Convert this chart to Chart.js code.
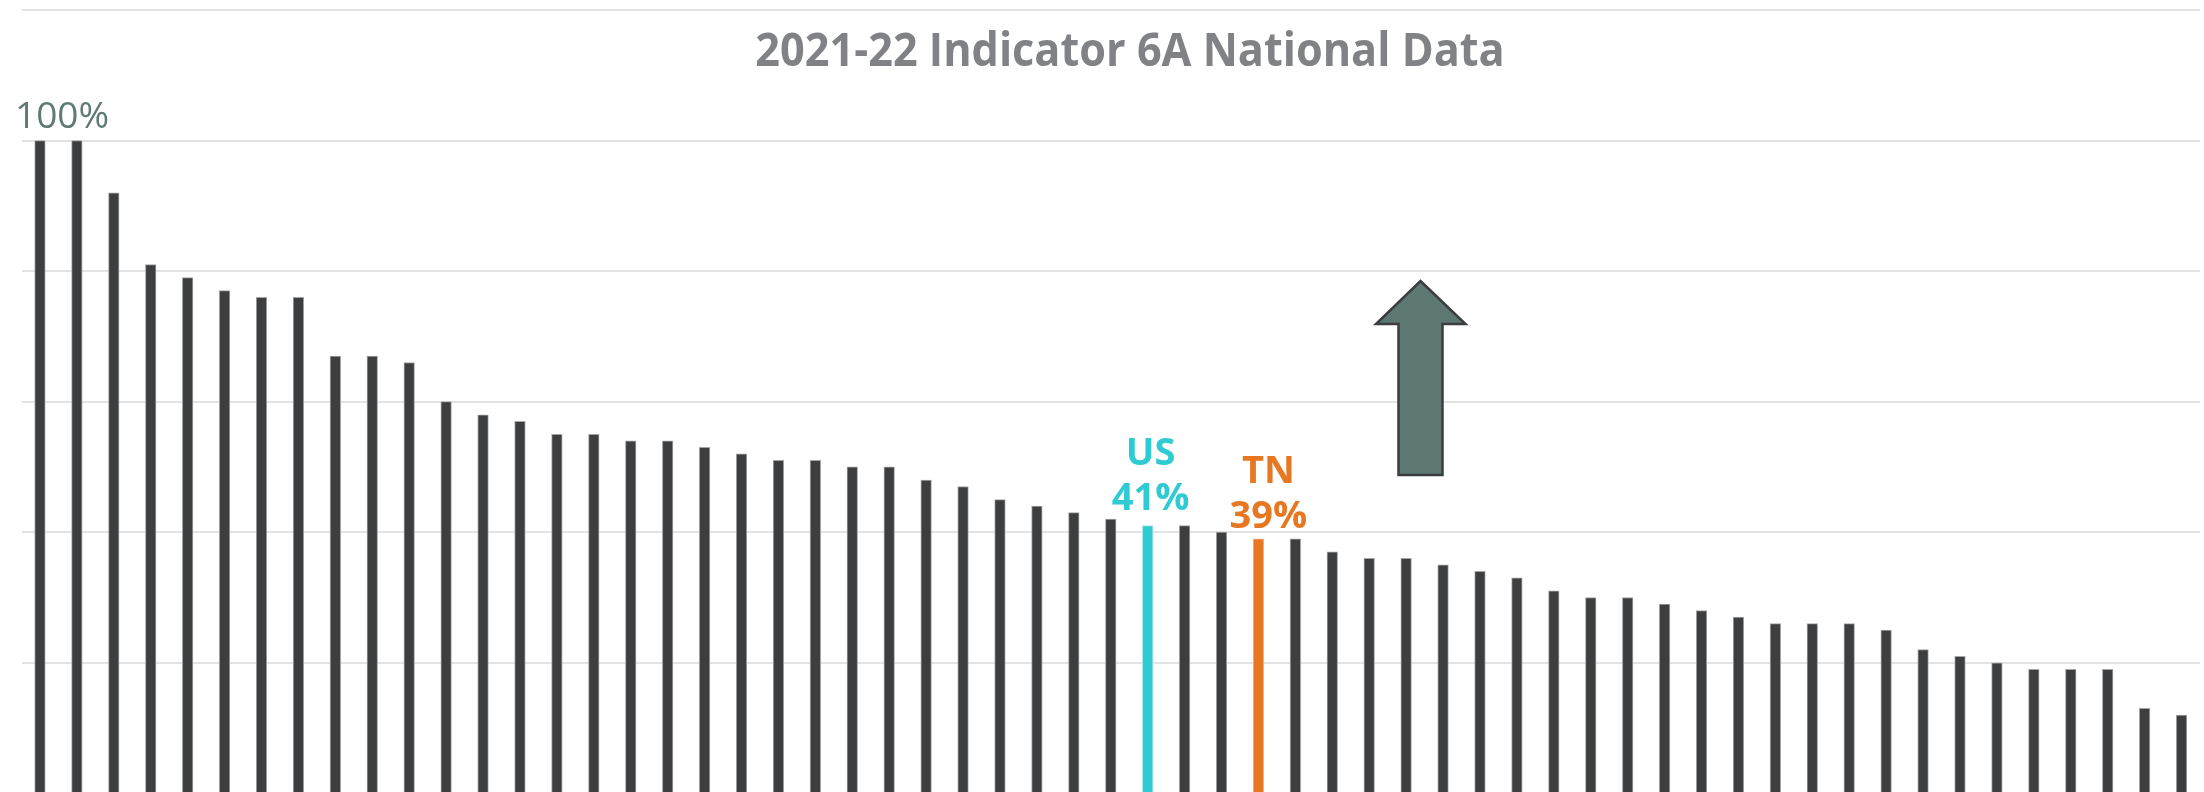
<!DOCTYPE html>
<html>
<head>
<meta charset="utf-8">
<script src="https://cdn.jsdelivr.net/npm/chart.js@4.4.1/dist/chart.umd.min.js"></script>
<style>
  html, body { margin: 0; padding: 0; background: #fff; overflow: hidden; }
  #wrap { position: relative; width: 2204px; height: 800px; }
</style>
</head>
<body>
<div id="wrap"><canvas id="chart" width="2204" height="800"></canvas></div>
<script>
const TITLE = '2021-22 Indicator 6A National Data';

// one bar per state, sorted high to low; only US and TN are named in the picture
const categories = [
  '', '', '', '', '', '', '', '', '', '',
  '', '', '', '', '', '', '', '', '', '',
  '', '', '', '', '', '', '', '', '', '',
  'US', '', '', 'TN', '', '', '', '', '', '',
  '', '', '', '', '', '', '', '', '', '',
  '', '', '', '', '', '', '', '', ''
];

const values = [
  100, 100, 92, 81, 79, 77, 76, 76, 67, 67,
  66, 60, 58, 57, 55, 55, 54, 54, 53, 52,
  51, 51, 50, 50, 48, 47, 45, 44, 43, 42,
  41, 41, 40, 39, 39, 37, 36, 36, 35, 34,
  33, 31, 30, 30, 29, 28, 27, 26, 26, 26,
  25, 22, 21, 20, 19, 19, 19, 13, 12
];

const yTickValues = [100];
const yTickLabels = ['100%'];

const DARK = '#3d3e40';
const highlight = {
  US: { fill: '#2ecbd3', border: '#a6e6ea', dx: 3, gap: 16 },
  TN: { fill: '#e87722', border: '#f2b48a', dx: 10, gap: 11 }
};

const barColors = categories.map(c => highlight[c] ? highlight[c].fill : DARK);
const borderColors = categories.map(c => highlight[c] ? highlight[c].border : '#a4a4a4');

const overlay = {
  id: 'overlay',
  afterDatasetsDraw(chart) {
    const { ctx } = chart;
    const x = chart.scales.x, y = chart.scales.y;

    // title (the source face is a bit narrower than Open Sans Bold)
    ctx.save();
    ctx.font = 'bold 47px "Open Sans"';
    ctx.fillStyle = '#808285';
    ctx.textAlign = 'center';
    ctx.textBaseline = 'alphabetic';
    ctx.translate(1130, 66);
    ctx.scale(0.92, 1);
    ctx.fillText(TITLE, 0, 0);
    ctx.restore();

    // single axis label sitting above its grid line
    ctx.save();
    ctx.font = '37px "Open Sans"';
    ctx.fillStyle = '#5f7a74';
    ctx.textAlign = 'left';
    yTickValues.forEach((v, i) => {
      ctx.fillText(yTickLabels[i], 15, y.getPixelForValue(v) - 13);
    });
    ctx.restore();

    // US / TN callouts
    ctx.save();
    ctx.font = 'bold 38px "Open Sans"';
    ctx.textAlign = 'center';
    categories.forEach((c, i) => {
      const h = highlight[c];
      if (!h) return;
      const cx = x.getPixelForValue(i) + h.dx;
      const top = y.getPixelForValue(values[i]);
      ctx.fillStyle = h.fill;
      ctx.fillText(values[i] + '%', cx, top - h.gap);
      ctx.fillText(c, cx, top - h.gap - 45);
    });
    ctx.restore();

    // "higher is better" arrow
    ctx.save();
    ctx.beginPath();
    ctx.moveTo(1420.5, 281);
    ctx.lineTo(1465.5, 324);
    ctx.lineTo(1442.5, 324);
    ctx.lineTo(1442.5, 475);
    ctx.lineTo(1398.5, 475);
    ctx.lineTo(1398.5, 324);
    ctx.lineTo(1376, 324);
    ctx.closePath();
    ctx.fillStyle = '#5d7873';
    ctx.fill();
    ctx.lineWidth = 2.5;
    ctx.strokeStyle = '#3b3d3f';
    ctx.stroke();
    ctx.restore();
  }
};

new Chart(document.getElementById('chart'), {
  type: 'bar',
  data: {
    labels: categories,
    datasets: [{
      data: values,
      backgroundColor: barColors,
      borderColor: borderColors,
      borderWidth: 1,
      barThickness: 10.6
    }]
  },
  options: {
    responsive: false,
    animation: false,
    layout: { padding: { left: 21.5, right: 4, top: 10, bottom: 6.7 } },
    plugins: {
      legend: { display: false },
      tooltip: { enabled: false },
      title: { display: false }
    },
    scales: {
      x: { display: false, offset: true },
      y: {
        min: 0,
        max: 120,
        ticks: { display: false, stepSize: 20 },
        grid: { color: '#e3e3e3', lineWidth: 2, drawTicks: false },
        border: { display: false }
      }
    }
  },
  plugins: [overlay]
});
</script>
</body>
</html>
